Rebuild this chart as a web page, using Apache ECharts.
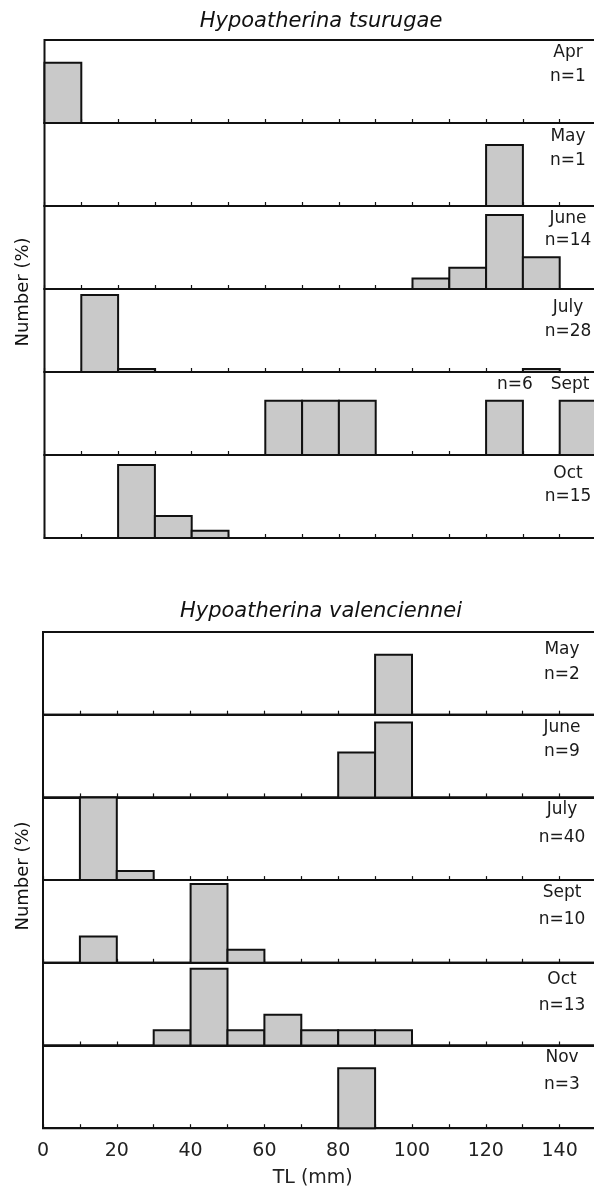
<!DOCTYPE html>
<html><head><meta charset="utf-8">
<script src="https://cdn.jsdelivr.net/npm/echarts@6/dist/echarts.min.js"></script>
<style>html,body{margin:0;padding:0;background:#fff;overflow:hidden}#c{width:594px;height:1186px}</style>
</head><body><div id="c"></div>
<script>
// ---------- data ----------
const binWidth = 10;
const xTickLabels = [0, 20, 40, 60, 80, 100, 120, 140];
const speciesNames = ['Hypoatherina tsurugae', 'Hypoatherina valenciennei'];
const yAxisName = 'Number (%)';
const xAxisName = 'TL (mm)';

// Hypoatherina tsurugae (bin start in mm, % of fish)
const tsMonths = ['Apr', 'May', 'June', 'July', 'Sept', 'Oct'];
const tsN = [1, 1, 14, 28, 6, 15];
const tsAprBins = [0],              tsAprPct = [100];
const tsMayBins = [120],            tsMayPct = [100];
const tsJunBins = [100, 110, 120, 130], tsJunPct = [7.1, 14.3, 50, 21.4];
const tsJulBins = [10, 20, 130],    tsJulPct = [92.9, 3.6, 3.6];
const tsSepBins = [60, 70, 80, 120, 140], tsSepPct = [16.7, 16.7, 16.7, 16.7, 16.7];
const tsOctBins = [20, 30, 40],     tsOctPct = [66.7, 20, 6.7];

// Hypoatherina valenciennei
const hvMonths = ['May', 'June', 'July', 'Sept', 'Oct', 'Nov'];
const hvN = [2, 9, 40, 10, 13, 3];
const hvMayBins = [90],             hvMayPct = [100];
const hvJunBins = [80, 90],         hvJunPct = [37.5, 62.5];
const hvJulBins = [10, 20],         hvJulPct = [90, 10];
const hvSepBins = [10, 40, 50],     hvSepPct = [20, 60, 10];
const hvOctBins = [30, 40, 50, 60, 70, 80, 90], hvOctPct = [7.7, 38.5, 7.7, 15.4, 7.7, 7.7, 7.7];
const hvNovBins = [80],             hvNovPct = [100];

// ---------- per-panel scale (each panel has its own % scale) ----------
const tsYMax = [138, 136, 56, 100, 25.6, 75.8];
const hvYMax = [138, 69, 90, 63, 41.5, 138];

// ---------- layout ----------
const FONT = '"DejaVu Sans", sans-serif';
const INK = '#111';
const FILL = '#c9c9c9';
const groups = [
  { months: tsMonths, n: tsN, bins: [tsAprBins, tsMayBins, tsJunBins, tsJulBins, tsSepBins, tsOctBins],
    pct: [tsAprPct, tsMayPct, tsJunPct, tsJulPct, tsSepPct, tsOctPct], ymax: tsYMax,
    left: 44.5, width: 552, top: 40, h: 83, labelX: 568,
    mDy: [13, 13.5, 13, 19, 13, 19], nDy: [37, 37.5, 35, 43, 0, 42],
    titleY: 22, yNameY: 292 },
  { months: hvMonths, n: hvN, bins: [hvMayBins, hvJunBins, hvJulBins, hvSepBins, hvOctBins, hvNovBins],
    pct: [hvMayPct, hvJunPct, hvJulPct, hvSepPct, hvOctPct, hvNovPct], ymax: hvYMax,
    left: 43, width: 553.5, top: 632, h: 82.7, labelX: 562,
    mDy: [18, 13, 12, 12, 16.5, 12.5], nDy: [42.5, 37, 40.5, 39, 43, 39.5],
    titleY: 612, yNameY: 876 }
];

const grid = [], xAxis = [], yAxis = [], series = [], graphic = [];
let k = 0;
groups.forEach((g, gi) => {
  for (let i = 0; i < 6; i++) {
    const isLast = gi === 1 && i === 5;
    const top = g.top + g.h * i;
    grid.push({ left: g.left, width: g.width, top: top, height: g.h,
      show: true, borderColor: INK, borderWidth: 2, containLabel: false, outerBoundsMode: 'none' });
    xAxis.push({
      type: 'value', gridIndex: k, min: 0, max: 150, interval: 10,
      axisLine: { show: true, onZero: false, lineStyle: { color: INK, width: 2 } },
      axisTick: { show: true, inside: true, length: 4, lineStyle: { color: INK, width: 1.2 } },
      splitLine: { show: false },
      axisLabel: { show: isLast, margin: 13, color: '#222', fontFamily: FONT, fontSize: 19,
        formatter: v => (xTickLabels.indexOf(v) >= 0 ? String(v) : '') },
      name: isLast ? xAxisName : '', nameLocation: 'middle', nameGap: 40,
      nameTextStyle: { fontFamily: FONT, fontSize: 19, color: '#222', padding: [0, 14, 0, 0] }
    });
    yAxis.push({ type: 'value', gridIndex: k, min: 0, max: g.ymax[i], show: false });
    const data = g.bins[i].map((b, j) => [b, b + binWidth, g.pct[i][j]]);
    series.push({
      type: 'custom', xAxisIndex: k, yAxisIndex: k, data: data,
      encode: { x: [0, 1], y: 2 },
      renderItem: (params, api) => {
        const p0 = api.coord([api.value(0), 0]);
        const p1 = api.coord([api.value(1), api.value(2)]);
        return { type: 'rect',
          shape: { x: p0[0], y: p1[1], width: p1[0] - p0[0], height: p0[1] - p1[1] },
          style: { fill: FILL, stroke: INK, lineWidth: 2 } };
      }
    });
    // month / n labels
    const txt = (s, x, y) => ({ type: 'text', x: x, y: y, z: 10,
      style: { text: s, fill: '#1a1a1a', font: '17px ' + FONT, align: 'center', verticalAlign: 'middle' } });
    if (gi === 0 && g.months[i] === 'Sept') {
      graphic.push(txt(g.months[i], 570, top + g.mDy[i]));
      graphic.push(txt('n=' + g.n[i], 515, top + g.mDy[i]));
    } else {
      graphic.push(txt(g.months[i], g.labelX, top + g.mDy[i]));
      graphic.push(txt('n=' + g.n[i], g.labelX, top + g.nDy[i]));
    }
    k++;
  }
  graphic.push({ type: 'text', x: 321, y: g.titleY,
    style: { text: speciesNames[gi], fill: '#111', font: 'italic 21px ' + FONT, align: 'center', verticalAlign: 'middle' } });
  graphic.push({ type: 'text', x: 23, y: g.yNameY, rotation: Math.PI / 2,
    style: { text: yAxisName, fill: '#111', font: '18px ' + FONT, align: 'center', verticalAlign: 'middle' } });
});

const chart = echarts.init(document.getElementById('c'), null, { renderer: 'canvas' });
chart.setOption({ animation: false, backgroundColor: '#fff', grid, xAxis, yAxis, series, graphic });
</script>
</body></html>
